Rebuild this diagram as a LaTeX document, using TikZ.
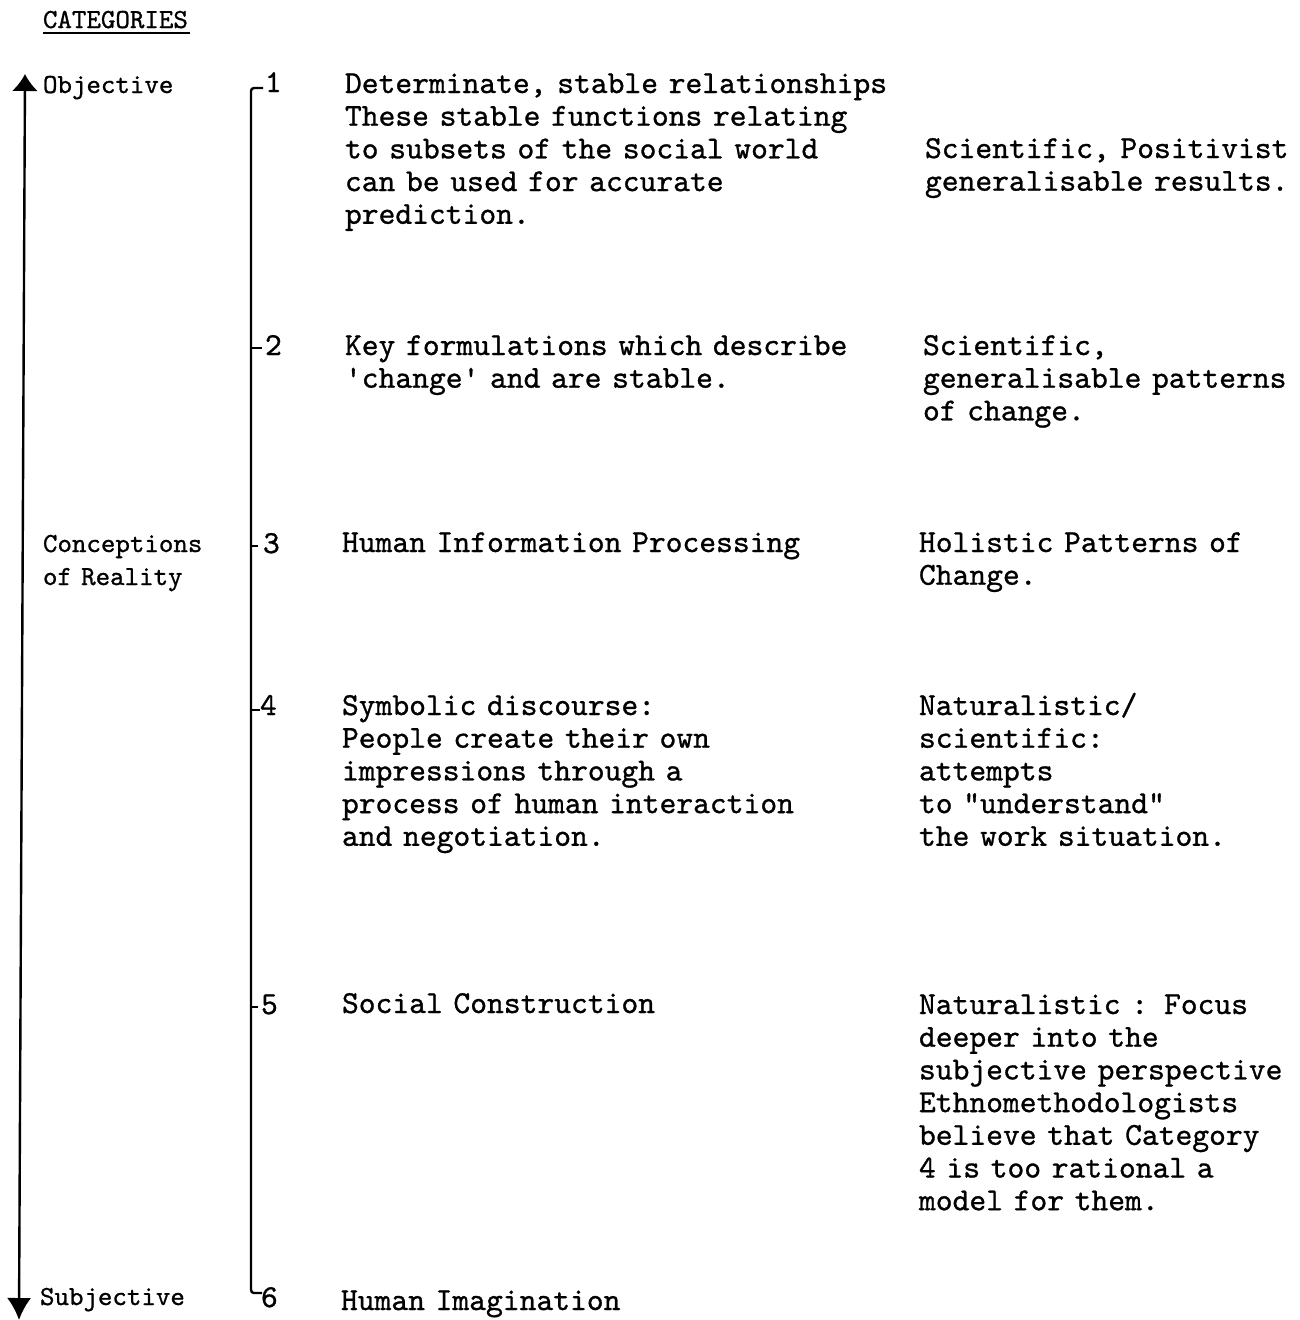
\documentclass[tikz,border=0pt]{standalone}
\usepackage{fontspec}
\usetikzlibrary{arrows.meta}
% typewriter face; word spaces set to one full character cell
\newfontfamily\typew{lmmono10-regular.otf}[FakeBold=0.9]
\newcommand{\twsize}[2]{\typew\fontsize{#1}{#2}\selectfont
  \fontdimen2\font=0.525em \fontdimen3\font=0pt \fontdimen4\font=0pt \relax}
\begin{document}
\begin{tikzpicture}[x=1pt,y=-1pt,
  every node/.style={inner sep=0pt,outer sep=0pt,anchor=base west},
  lefttext/.style={font=\twsize{27.6}{33},text width=300pt,align=left},
  bodytext/.style={font=\twsize{32}{32.7},text width=#1,align=left},
  bodytext/.default=620pt,
  ticklabel/.style={font=\twsize{32}{32.7}},
  axis/.style={line width=2.4pt},
  spine/.style={line width=2.4pt,line join=round}]
\useasboundingbox (0,0) rectangle (1300,1320);

% heading and the labels of the scale
\node[lefttext] (cat) at (43,28) {CATEGORIES};
\draw[line width=1.6pt] ([yshift=-5pt]cat.base west) -- ++(147,0);
\node[lefttext] (obj)  at (43,93)   {Objective};
\node[lefttext] (conc) at (43,552)  {Conceptions\\of Reality};
\node[lefttext] (subj) at (40,1305) {Subjective};

% objective / subjective axis
\coordinate (axtop) at (25,74);
\coordinate (axbot) at (19,1320);
\draw[axis,{Latex[length=17pt,width=26pt]}-{Latex[length=22pt,width=24pt]}] (axtop) -- (axbot);

% numbered scale
\coordinate (t1) at (263,88);
\coordinate (t2) at (262,348);
\coordinate (t3) at (258,546);
\coordinate (t4) at (260,710);
\coordinate (t5) at (258,1007);
\coordinate (t6) at (262,1293);
\draw[spine,rounded corners=3pt] (t1) -- (251,88) -- (251,1293) -- (t6);
\foreach \t in {t2,t3,t4,t5} \draw[spine] (\t) -- (251,0 |- \t);

\node[ticklabel] (n1) at (265,92)   {1};
\node[ticklabel] (n2) at (265,355)  {2};
\node[ticklabel] (n3) at (263,553)  {3};
\node[ticklabel] (n4) at (260,715)  {4};
\node[ticklabel] (n5) at (261,1014) {5};
\node[ticklabel] (n6) at (261,1307) {6};

% descriptions of each category
\node[bodytext] (d1) at (345,93) {Determinate, stable relationships\\These stable functions relating\\to subsets of the social world\\can be used for accurate\\prediction.};
\node[bodytext] (d2) at (345,355) {Key formulations which describe\\\symbol{39}change\symbol{39} and are stable.};
\node[bodytext] (d3) at (342,552) {Human Information Processing};
\node[bodytext] (d4) at (342,715) {Symbolic discourse:\\People create their own\\impressions through a\\process of human interaction\\and negotiation.};
\node[bodytext] (d5) at (342,1013) {Social Construction};
\node[bodytext] (d6) at (341,1310) {Human Imagination};

% research approaches
\node[bodytext=420pt] (r1) at (925,158) {Scientific, Positivist\\generalisable results.};
\node[bodytext=420pt] (r2) at (923,355) {Scientific,\\generalisable patterns\\of change.};
\node[bodytext=420pt] (r3) at (919,552) {Holistic Patterns of\\Change.};
\node[bodytext=420pt] (r4) at (919,715) {Naturalistic/\\scientific:\\attempts\\to "understand"\\the work situation.};
\node[bodytext=420pt] (r5) at (919,1014) {Naturalistic : Focus\\deeper into the\\subjective perspective\\Ethnomethodologists\\believe that Category\\4 is too rational a\\model for them.};
\end{tikzpicture}
\end{document}
